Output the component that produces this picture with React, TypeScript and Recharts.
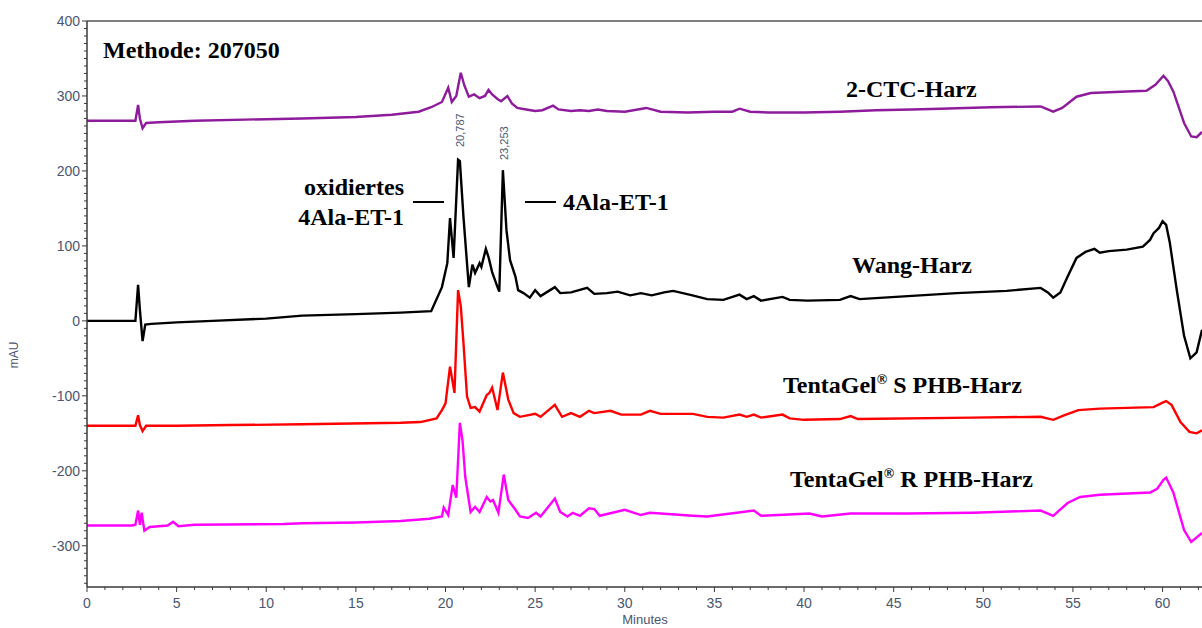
import React from 'react';
import { LineChart, Line, XAxis, YAxis, ReferenceLine } from 'recharts';

// retention times (min) and absorbance (mAU)
const ctcTime = [0, 2.7, 2.85, 2.95, 3.1, 3.3, 4, 6, 10, 12, 15, 17, 18.5, 19.2, 19.8, 20.15, 20.35, 20.6, 20.85, 21.05, 21.3, 21.6, 21.9, 22.2, 22.4, 22.6, 22.9, 23.1, 23.45, 23.7, 24, 24.5, 25, 25.4, 26, 26.3, 27, 27.5, 28, 28.5, 29, 30, 31.2, 32, 33.5, 35, 36, 36.4, 37, 38, 40, 42, 44, 46, 47.6, 50.4, 53.2, 53.9, 54.4, 55.2, 56, 57, 58, 59.1, 59.6, 60.05, 60.3, 60.6, 60.9, 61.2, 61.6, 61.9, 62.2];
const ctcValues = [267, 267, 288, 270, 257, 264, 265, 267, 269, 270, 272, 275, 279, 285, 292, 311, 292, 300, 331, 314, 299, 302, 297, 300, 308, 302, 296, 293, 300, 290, 284, 282, 280, 281, 287, 282, 280, 281, 280, 282, 280, 279, 284, 279, 278, 279, 279, 283, 279, 278, 278, 279, 281, 282, 283, 285, 286, 279, 284, 299, 304, 305, 306, 307, 315, 327, 320, 306, 285, 264, 246, 245, 252];

const wangTime = [0, 2.7, 2.85, 2.95, 3.1, 3.25, 3.6, 5, 7, 10, 12, 15, 17.5, 19.2, 19.8, 20.1, 20.25, 20.45, 20.7, 20.8, 21, 21.3, 21.5, 21.65, 21.9, 22, 22.25, 22.4, 22.6, 22.9, 23, 23.1, 23.2, 23.4, 23.6, 23.9, 24.05, 24.35, 24.7, 25, 25.3, 26.1, 26.4, 27, 27.9, 28.3, 29, 29.6, 30.3, 30.9, 31.5, 32.2, 32.7, 33.6, 34.6, 35.5, 36.4, 36.8, 37.2, 37.6, 38.8, 39.2, 40.2, 42, 42.6, 43.1, 45.8, 48.5, 51.3, 53.2, 53.6, 53.9, 54.3, 54.7, 55.2, 55.7, 56.2, 56.5, 57, 58, 58.9, 59.3, 59.5, 59.8, 60, 60.2, 60.4, 60.8, 61.2, 61.55, 61.9, 62.2];
const wangValues = [0, 0, 48, 15, -27, -5, -4, -2, 0, 3, 7, 9, 11, 13, 45, 77, 137, 84, 215, 213, 139, 45, 75, 64, 77, 72, 96, 85, 65, 45, 39, 120, 201, 121, 81, 59, 41, 37, 31, 41, 33, 45, 37, 38, 44, 36, 37, 39, 34, 37, 34, 38, 40, 35, 29, 28, 35, 29, 33, 27, 32, 28, 27, 28, 33, 29, 33, 37, 40, 44, 38, 31, 38, 59, 84, 92, 96, 91, 93, 95, 99, 108, 117, 124, 133, 128, 105, 40, -20, -50, -42, -12];

const tgsTime = [0, 2.7, 2.85, 2.95, 3.1, 3.3, 5, 8, 12, 17.5, 18.6, 19.5, 19.8, 20, 20.25, 20.5, 20.7, 20.85, 21, 21.2, 21.4, 21.65, 21.9, 22.3, 22.45, 22.6, 22.9, 23.2, 23.5, 23.8, 24.15, 25, 25.3, 26.1, 26.5, 27, 27.5, 28, 28.3, 29.2, 29.8, 30.9, 31.4, 32, 32.7, 33.8, 34.6, 35.5, 36.4, 36.8, 37.2, 37.6, 38.8, 39.2, 40, 42, 42.6, 43, 49.4, 53.2, 53.9, 54.5, 55.3, 56.5, 59.5, 60, 60.2, 60.5, 61, 61.5, 61.9, 62.2];
const tgsValues = [-140, -140, -126, -139, -147, -140, -140, -139, -138, -136, -135, -130, -119, -110, -61, -96, 41, 20, -29, -101, -116, -115, -121, -99, -96, -89, -119, -69, -105, -123, -128, -124, -128, -112, -128, -123, -128, -120, -123, -120, -125, -125, -120, -124, -124, -124, -128, -129, -125, -128, -125, -129, -125, -130, -132, -131, -127, -131, -129, -128, -132, -126, -119, -117, -115, -109, -107, -112, -135, -148, -150, -146];

const tgrTime = [0, 2.5, 2.7, 2.85, 2.95, 3.05, 3.2, 3.5, 4.5, 4.8, 5.1, 6, 11, 12, 15, 17.5, 19.1, 19.8, 19.9, 20.15, 20.4, 20.6, 20.8, 20.95, 21.1, 21.4, 21.65, 21.9, 22.3, 22.5, 22.65, 22.95, 23.25, 23.5, 23.9, 24.15, 24.6, 25.05, 25.3, 26.1, 26.4, 26.8, 27.1, 27.5, 28, 28.3, 28.6, 30, 30.9, 31.4, 33.8, 34.6, 37.2, 37.6, 40.3, 41, 42.6, 45.8, 49.4, 53.2, 53.9, 54.7, 55.4, 56.5, 59.3, 59.7, 60.05, 60.2, 60.6, 61.2, 61.6, 62.2];
const tgrValues = [-273, -273, -272, -253, -272, -256, -280, -275, -273, -268, -274, -272, -271, -270, -269, -267, -264, -261, -249, -259, -219, -236, -136, -160, -208, -255, -248, -255, -235, -241, -239, -256, -205, -239, -252, -261, -263, -256, -261, -237, -255, -261, -256, -260, -250, -251, -260, -252, -259, -256, -260, -261, -253, -260, -257, -261, -257, -257, -256, -253, -260, -243, -235, -232, -229, -224, -212, -209, -229, -279, -295, -283];

const peakTimes = [20.787, 23.253];
const peakLabels = ['20,787', '23,253'];
const yMajorTicks = [-300, -200, -100, 0, 100, 200, 300, 400];
const xMajorTicks = [0, 5, 10, 15, 20, 25, 30, 35, 40, 45, 50, 55, 60];

const X_MAX = 62.2;
const Y_MIN = -355;
const Y_MAX = 400;
const PLOT_LEFT = 87;
const PLOT_WIDTH = 1115;

const yTicks: number[] = [];
for (let v = -350; v <= 400; v += 10) yTicks.push(v);
const xTicks: number[] = [];
for (let t = 0; t <= 62; t += 1) xTicks.push(t);

const toRows = (t: number[], v: number[]) => t.map((x, i) => ({ t: x, v: v[i] }));

const tickColor = '#4a5670';
const axisColor = '#3a3a3a';
const serif = '"Liberation Serif", "Times New Roman", serif';
const sans = '"Liberation Sans", Arial, sans-serif';

const YTick = ({ x, y, payload }: any) => {
  const major = yMajorTicks.includes(payload.value);
  return (
    <g>
      <line x1={x - (major ? 5 : 3)} x2={x} y1={y} y2={y} stroke={axisColor} />
      {major && (
        <text x={x - 7} y={y} dy={5} textAnchor="end" fontSize={14} fontFamily={sans} fill={tickColor}>
          {payload.value}
        </text>
      )}
    </g>
  );
};

const XTick = ({ x, y, payload }: any) => {
  const major = xMajorTicks.includes(payload.value);
  return (
    <g>
      <line x1={x} x2={x} y1={y} y2={y + (major ? 5 : 3)} stroke={axisColor} />
      {major && (
        <text x={x} y={y + 21} textAnchor="middle" fontSize={14} fontFamily={sans} fill={tickColor}>
          {payload.value}
        </text>
      )}
    </g>
  );
};

const Reg = () => (
  <>
    <tspan fontSize={14} dy={-9}>®</tspan>
    <tspan dy={9}> </tspan>
  </>
);

const App = () => {
  const tx = (t: number) => PLOT_LEFT + (t / X_MAX) * PLOT_WIDTH;
  return (
    <div style={{ position: 'absolute', left: 0, top: 0, width: 1202, height: 628, background: '#fff' }}>
      <LineChart width={1202} height={628} margin={{ top: 21, right: 0, bottom: 0, left: 0 }}>
        <XAxis
          type="number"
          dataKey="t"
          domain={[0, X_MAX]}
          allowDataOverflow
          ticks={xTicks}
          interval={0}
          tick={<XTick />}
          tickLine={false}
          tickSize={0}
          tickMargin={0}
          height={41}
          axisLine={{ stroke: axisColor, strokeWidth: 1.5 }}
        />
        <YAxis
          type="number"
          domain={[Y_MIN, Y_MAX]}
          allowDataOverflow
          ticks={yTicks}
          interval={0}
          tick={<YTick />}
          tickLine={false}
          tickSize={0}
          tickMargin={0}
          width={87}
          axisLine={{ stroke: axisColor, strokeWidth: 1.5 }}
        />
        <ReferenceLine y={Y_MAX} stroke="#555" strokeWidth={1.5} />
        <Line data={toRows(ctcTime, ctcValues)} dataKey="v" type="linear" stroke="#8e1b9c" strokeWidth={2.4} dot={false} isAnimationActive={false} />
        <Line data={toRows(wangTime, wangValues)} dataKey="v" type="linear" stroke="#000000" strokeWidth={2.4} dot={false} isAnimationActive={false} />
        <Line data={toRows(tgsTime, tgsValues)} dataKey="v" type="linear" stroke="#ff0000" strokeWidth={2.4} dot={false} isAnimationActive={false} />
        <Line data={toRows(tgrTime, tgrValues)} dataKey="v" type="linear" stroke="#ff00ff" strokeWidth={2.4} dot={false} isAnimationActive={false} />
      </LineChart>

      <svg width={1202} height={628} style={{ position: 'absolute', left: 0, top: 0, pointerEvents: 'none' }}>
        <g fontFamily={serif} fontWeight="bold" fontSize={24} fill="#000">
          <text x={103} y={58}>Methode: 207050</text>
          <text x={846} y={97}>2-CTC-Harz</text>
          <text x={852} y={273}>Wang-Harz</text>
          <text x={783} y={393}>TentaGel<Reg />S PHB-Harz</text>
          <text x={790} y={487}>TentaGel<Reg />R PHB-Harz</text>
          <text x={404} y={195} textAnchor="end">oxidiertes</text>
          <text x={404} y={225} textAnchor="end">4Ala-ET-1</text>
          <text x={563} y={210}>4Ala-ET-1</text>
        </g>
        <line x1={413} x2={444} y1={202} y2={202} stroke="#000" strokeWidth={2} />
        <line x1={525} x2={556} y1={202} y2={202} stroke="#000" strokeWidth={2} />
        {peakTimes.map((t, i) => (
          <text
            key={peakLabels[i]}
            x={tx(t) + 4}
            y={i === 0 ? 147 : 160}
            transform={`rotate(-90 ${tx(t) + 4} ${i === 0 ? 147 : 160})`}
            fontSize={11}
            fontFamily={sans}
            fill={tickColor}
          >
            {peakLabels[i]}
          </text>
        ))}
        <text x={18} y={355} transform="rotate(-90 18 355)" textAnchor="middle" fontSize={12} fontFamily={sans} fill={tickColor}>
          mAU
        </text>
        <text x={645} y={624} textAnchor="middle" fontSize={13} fontFamily={sans} fill={tickColor}>
          Minutes
        </text>
      </svg>
    </div>
  );
};

export default App;
